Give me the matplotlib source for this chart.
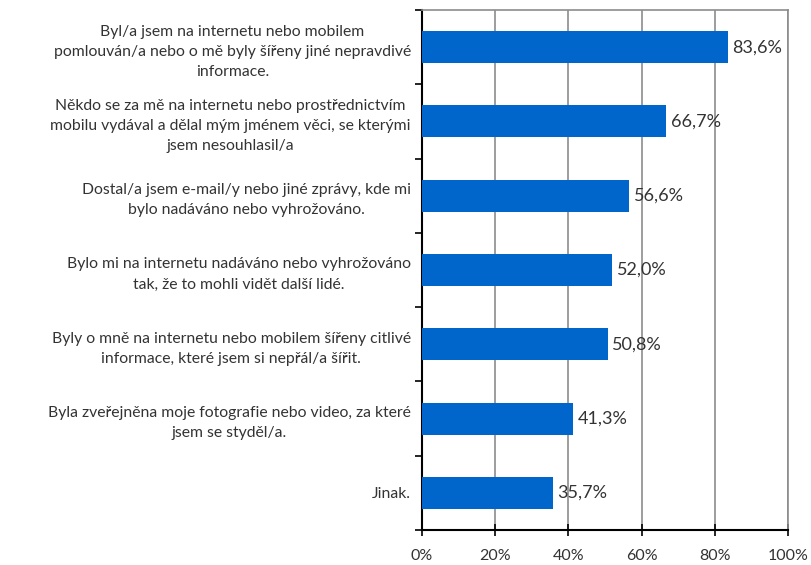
import numpy as np
import matplotlib.pyplot as plt
from matplotlib.ticker import FixedLocator

labels = [
    "Byl/a jsem na internetu nebo mobilem\npomlouván/a nebo o mě byly šířeny jiné nepravdivé\ninformace.",
    "Někdo se za mě na internetu nebo prostřednictvím\nmobilu vydával a dělal mým jménem věci, se kterými\njsem nesouhlasil/a",
    "Dostal/a jsem e-mail/y nebo jiné zprávy, kde mi\nbylo nadáváno nebo vyhrožováno.",
    "Bylo mi na internetu nadáváno nebo vyhrožováno\ntak, že to mohli vidět další lidé.",
    "Byly o mně na internetu nebo mobilem šířeny citlivé\ninformace, které jsem si nepřál/a šířit.",
    "Byla zveřejněna moje fotografie nebo video, za které\njsem se styděl/a.",
    "Jinak.",
]
values = [83.6, 66.7, 56.6, 52.0, 50.8, 41.3, 35.7]
xticks = [0, 20, 40, 60, 80, 100]

plt.rcParams['font.family'] = ['Lato', 'DejaVu Sans']

fig = plt.figure(figsize=(8.11, 5.65), dpi=100)
ax = fig.add_axes([422/811, 35/565, (788-422)/811, (530-10)/565])

n = len(values)
y = np.arange(n)
ax.barh(y, values, height=0.43, color='#0066CC', zorder=3)
for yi, v in zip(y, values):
    ax.text(v + 1.2, yi, f"{v:.1f}%".replace('.', ','), va='center', ha='left',
            fontsize=13, color='#333333', zorder=4)

ax.set_xlim(0, 100)
ax.set_ylim(n - 0.5, -0.5)
ax.set_xticks(xticks)
ax.set_xticklabels([f"{t}%" for t in xticks], fontsize=11.5, color='#333333')
ax.xaxis.grid(True, color='#8c8c8c', linewidth=1.2, zorder=0)
ax.tick_params(axis='x', direction='inout', length=8, width=1.2, pad=10)

ax.yaxis.set_major_locator(FixedLocator(np.arange(-0.5, n, 1.0)))
ax.yaxis.set_minor_locator(FixedLocator(y))
ax.set_yticklabels([], minor=False)
ax.set_yticklabels(labels, minor=True, fontsize=11.3, color='#333333', multialignment='center', linespacing=1.55)
ax.tick_params(axis='y', which='major', direction='out', length=5, width=1.2)
ax.tick_params(axis='y', which='minor', length=0, pad=8)

for s in ['top', 'right']:
    ax.spines[s].set_color('#8c8c8c')
    ax.spines[s].set_linewidth(1.2)
for s in ['left', 'bottom']:
    ax.spines[s].set_color('black')
    ax.spines[s].set_linewidth(1.5)

fig.savefig('out.png', dpi=100)
